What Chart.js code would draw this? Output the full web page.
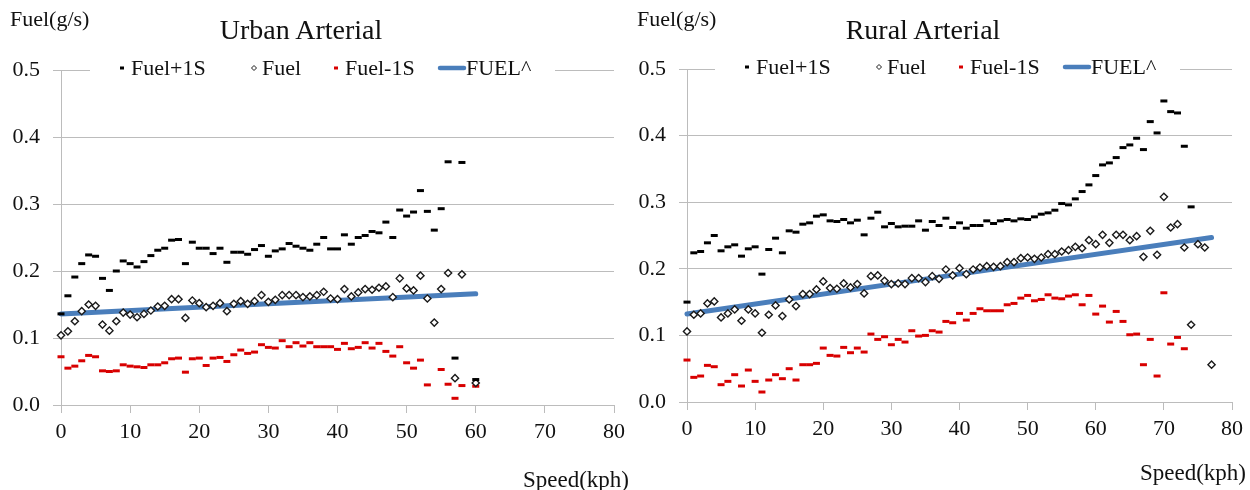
<!DOCTYPE html>
<html lang="en">
<head>
<meta charset="UTF-8">
<title>Fuel vs Speed</title>
<script src="https://cdn.jsdelivr.net/npm/chart.js@4"></script>
<style>
  body { margin: 0; background: #fff; font-family: "Liberation Serif", "Times New Roman", serif; }
  #page { position: relative; width: 1250px; height: 490px; overflow: hidden; }
  .panel { position: absolute; top: 0; width: 625px; height: 490px; }
  .lbl { position: absolute; white-space: nowrap; line-height: 1; color: #111; }
  canvas { position: absolute; left: 0; top: 0; }
</style>
</head>
<body>
<div id="page">
  <div class="panel" style="left:0">
    <canvas id="urban" width="625" height="490"></canvas>
    <div class="lbl" style="left:10px; top:8px; font-size:22px">Fuel(g/s)</div>
    <div class="lbl" style="left:181px; width:240px; text-align:center; top:16px; font-size:28px">Urban Arterial</div>
    <div class="lbl" style="left:523px; top:468px; font-size:23px">Speed(kph)</div>
  </div>
  <div class="panel" style="left:625px">
    <canvas id="rural" width="625" height="490"></canvas>
    <div class="lbl" style="left:12px; top:8px; font-size:22px">Fuel(g/s)</div>
    <div class="lbl" style="left:178px; width:240px; text-align:center; top:16px; font-size:28px">Rural Arterial</div>
    <div class="lbl" style="left:515px; top:461px; font-size:23px">Speed(kph)</div>
  </div>
</div>

<script>
// ---- Urban Arterial ----
const urbanSpeed = [0,1,2,3,4,5,6,7,8,9,10,11,12,13,14,15,16,17,18,19,20,21,22,23,24,25,26,27,28,29,
  30,31,32,33,34,35,36,37,38,39,40,41,42,43,44,45,46,47,48,49,50,51,52,53,54,55,56,57,58,59,60];
const urbanUpper = [0.136,0.163,0.191,0.211,0.224,0.222,0.189,0.171,0.200,0.215,
  0.211,0.206,0.214,0.223,0.231,0.234,0.246,0.247,0.211,0.243,
  0.234,0.234,0.226,0.234,0.213,0.228,0.228,0.225,0.232,0.238,
  0.222,0.230,0.233,0.241,0.237,0.234,0.231,0.240,0.250,0.233,
  0.233,0.254,0.240,0.250,0.253,0.259,0.257,0.273,0.250,0.291,
  0.282,0.288,0.320,0.289,0.261,0.293,0.363,0.070,0.362,null,
  0.038];
const urbanFuel = [0.104,0.110,0.125,0.140,0.150,0.148,0.120,0.111,0.125,0.138,
  0.135,0.131,0.136,0.141,0.147,0.148,0.158,0.158,0.130,0.156,
  0.152,0.146,0.148,0.152,0.140,0.151,0.155,0.151,0.155,0.164,
  0.154,0.157,0.164,0.164,0.164,0.161,0.162,0.164,0.169,0.159,
  0.158,0.173,0.162,0.168,0.173,0.172,0.175,0.177,0.161,0.189,
  0.174,0.171,0.193,0.159,0.123,0.173,0.197,0.040,0.195,null,
  0.033];
const urbanLower = [0.072,0.055,0.058,0.066,0.074,0.072,0.051,0.050,0.051,0.060,
  0.058,0.057,0.056,0.060,0.060,0.063,0.069,0.070,0.049,0.069,
  0.070,0.059,0.070,0.071,0.065,0.075,0.082,0.077,0.079,0.090,
  0.086,0.085,0.096,0.087,0.093,0.088,0.093,0.087,0.087,0.087,
  0.083,0.092,0.084,0.086,0.093,0.085,0.092,0.080,0.073,0.087,
  0.063,0.055,0.067,0.030,null,0.053,0.031,0.010,0.029,null,
  0.028];
const urbanFitSpeed = [0, 30, 60];
const urbanFit = [0.136, 0.151, 0.166];

// ---- Rural Arterial ----
const ruralSpeed = [0,1,2,3,4,5,6,7,8,9,10,11,12,13,14,15,16,17,18,19,20,21,22,23,24,25,26,27,28,29,
  30,31,32,33,34,35,36,37,38,39,40,41,42,43,44,45,46,47,48,49,50,51,52,53,54,55,56,57,58,59,
  60,61,62,63,64,65,66,67,68,69,70,71,72,73,74,75,76,77];
const ruralUpper = [0.150,0.224,0.226,0.239,0.250,0.227,0.233,0.236,0.219,0.230,
  0.233,0.192,0.229,0.246,0.224,0.257,0.255,0.267,0.269,0.279,
  0.281,0.272,0.271,0.274,0.269,0.273,0.251,0.276,0.285,0.263,
  0.268,0.263,0.264,0.264,0.272,0.258,0.271,0.265,0.276,0.262,
  0.269,0.261,0.265,0.265,0.272,0.268,0.272,0.274,0.272,0.275,
  0.274,0.278,0.282,0.284,0.288,0.298,0.296,0.305,0.316,0.326,
  0.340,0.356,0.359,0.367,0.382,0.386,0.396,0.379,0.421,0.404,
  0.452,0.436,0.434,0.384,0.293,null,null,null];
const ruralFuel = [0.106,0.131,0.133,0.148,0.151,0.127,0.133,0.139,0.122,0.139,
  0.133,0.104,0.131,0.145,0.129,0.154,0.144,0.162,0.162,0.169,
  0.181,0.171,0.170,0.178,0.172,0.177,0.163,0.189,0.190,0.182,
  0.177,0.178,0.177,0.186,0.186,0.180,0.189,0.185,0.199,0.190,
  0.201,0.192,0.199,0.202,0.204,0.203,0.204,0.210,0.210,0.216,
  0.217,0.215,0.217,0.222,0.222,0.226,0.228,0.233,0.231,0.243,
  0.237,0.251,0.239,0.251,0.251,0.243,0.249,0.218,0.257,0.221,
  0.308,0.262,0.267,0.232,0.116,0.237,0.232,0.056];
const ruralLower = [0.063,0.037,0.039,0.055,0.053,0.026,0.031,0.041,0.024,0.048,
  0.031,0.015,0.033,0.041,0.035,0.050,0.033,0.056,0.056,0.058,
  0.081,0.070,0.069,0.082,0.074,0.081,0.075,0.102,0.094,0.098,
  0.086,0.094,0.090,0.107,0.099,0.100,0.107,0.105,0.121,0.119,
  0.133,0.123,0.133,0.140,0.137,0.137,0.137,0.146,0.148,0.156,
  0.160,0.152,0.154,0.161,0.156,0.155,0.159,0.161,0.146,0.160,
  0.132,0.144,0.120,0.136,0.121,0.101,0.102,0.056,0.094,0.039,
  0.164,0.087,0.097,0.080,null,null,null,null];
const ruralFitSpeed = [0, 40, 77];
const ruralFit = [0.132, 0.192, 0.247];

const seriesNames = ['Fuel+1S', 'Fuel', 'Fuel-1S', 'FUEL^'];
const speedTicks = [0, 10, 20, 30, 40, 50, 60, 70, 80];
const fuelTicks = [0.0, 0.1, 0.2, 0.3, 0.4, 0.5];

const GRID = '#bcbcbc';
const SERIF = '"Liberation Serif", "Times New Roman", serif';

function pts(xs, ys) {
  return xs.map(function (x, i) { return { x: x, y: ys[i] }; });
}

// legend drawn in a white box sitting on top of the 0.5 gridline
const boxLegend = {
  id: 'boxLegend',
  afterDraw(chart, args, opts) {
    const ctx = chart.ctx;
    const y = chart.chartArea.top - 2;
    ctx.save();
    ctx.fillStyle = '#fff';
    ctx.fillRect(opts.left, y - 16, opts.right - opts.left, 32);
    ctx.font = '22px ' + SERIF;
    ctx.textBaseline = 'middle';
    chart.data.datasets.forEach(function (ds, i) {
      const x = opts.items[i];
      let tx;
      if (ds.showLine) {
        ctx.strokeStyle = ds.borderColor;
        ctx.lineWidth = 4.5;
        ctx.lineCap = 'round';
        ctx.beginPath();
        ctx.moveTo(x, y);
        ctx.lineTo(x + 24, y);
        ctx.stroke();
        tx = x + 26;
      } else if (ds.pointStyle === 'rectRot') {
        ctx.strokeStyle = ds.borderColor;
        ctx.lineWidth = 1;
        ctx.beginPath();
        ctx.moveTo(x, y - 2.5); ctx.lineTo(x + 2.5, y); ctx.lineTo(x, y + 2.5); ctx.lineTo(x - 2.5, y);
        ctx.closePath();
        ctx.stroke();
        tx = x + 8;
      } else {
        ctx.fillStyle = ds.borderColor;
        ctx.fillRect(x - 2, y - 1.5, 4, 3);
        tx = x + 9;
      }
      ctx.fillStyle = '#111';
      ctx.fillText(ds.label, tx, y + 1);
    });
    ctx.restore();
  }
};

function makeChart(id, speeds, upper, fuel, lower, fitX, fitY, lay) {
  const ctx = document.getElementById(id).getContext('2d');
  return new Chart(ctx, {
    type: 'scatter',
    data: {
      datasets: [
        { label: seriesNames[0], data: pts(speeds, upper), pointStyle: 'line', pointRadius: 3.5,
          borderColor: '#000', borderWidth: 3, clip: 8 },
        { label: seriesNames[1], data: pts(speeds, fuel), pointStyle: 'rectRot', pointRadius: 3.6,
          borderColor: '#1a1a1a', backgroundColor: '#fff', borderWidth: 1.4, clip: 8 },
        { label: seriesNames[2], data: pts(speeds, lower), pointStyle: 'line', pointRadius: 3.5,
          borderColor: '#d80000', borderWidth: 3, clip: 8 },
        { label: seriesNames[3], data: pts(fitX, fitY), showLine: true, pointRadius: 0,
          borderColor: '#4a7ebb', borderWidth: 5, borderCapStyle: 'round', clip: 8 }
      ]
    },
    options: {
      responsive: false,
      animation: false,
      devicePixelRatio: 1,
      events: [],
      layout: { padding: { top: lay.top, right: lay.right, left: 0, bottom: 0 } },
      plugins: {
        legend: { display: false },
        tooltip: { enabled: false },
        boxLegend: { items: [122, 254, 336, 440], left: 90, right: 555 }
      },
      scales: {
        x: {
          type: 'linear', min: 0, max: 80,
          afterBuildTicks: function (s) { s.ticks = speedTicks.map(function (v) { return { value: v }; }); },
          afterFit: function (s) { s.height = lay.xh; s.paddingLeft = 0; s.paddingRight = 0; },
          ticks: { color: '#111', font: { family: SERIF, size: 22 }, padding: 6, maxRotation: 0 },
          grid: { drawOnChartArea: false, color: GRID, tickLength: 8 },
          border: { color: GRID, width: 1 }
        },
        y: {
          min: 0, max: 0.5,
          afterBuildTicks: function (s) { s.ticks = fuelTicks.map(function (v) { return { value: v }; }); },
          afterFit: function (s) { s.width = lay.yw; },
          ticks: { color: '#111', font: { family: SERIF, size: 22 }, padding: 13,
            callback: function (v) { return v.toFixed(1); } },
          grid: { color: GRID, tickLength: 8 },
          border: { color: GRID, width: 1 }
        }
      }
    },
    plugins: [boxLegend]
  });
}

makeChart('urban', urbanSpeed, urbanUpper, urbanFuel, urbanLower, urbanFitSpeed, urbanFit,
  { top: 70, right: 11, xh: 85, yw: 61 });
makeChart('rural', ruralSpeed, ruralUpper, ruralFuel, ruralLower, ruralFitSpeed, ruralFit,
  { top: 69, right: 18, xh: 88, yw: 62 });
</script>
</body>
</html>
